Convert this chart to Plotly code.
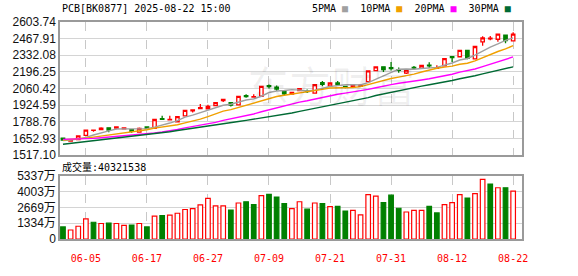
import plotly.graph_objects as go

# ---------------- data ----------------
dates = ["05-30", "06-03", "06-04", "06-05", "06-06", "06-09", "06-10", "06-11", "06-12", "06-13",
         "06-16", "06-17", "06-18", "06-19", "06-20", "06-23", "06-24", "06-25", "06-26", "06-27",
         "06-30", "07-01", "07-02", "07-03", "07-04", "07-07", "07-08", "07-09", "07-10", "07-11",
         "07-14", "07-15", "07-16", "07-17", "07-18", "07-21", "07-22", "07-23", "07-24", "07-25",
         "07-28", "07-29", "07-30", "07-31", "08-01", "08-04", "08-05", "08-06", "08-07", "08-08",
         "08-11", "08-12", "08-13", "08-14", "08-15", "08-18", "08-19", "08-20", "08-21", "08-22"]

opens = [1657, 1632, 1644, 1679, 1719, 1726, 1740, 1738, 1732, 1726,
         1705, 1747, 1735, 1815, 1806, 1790, 1838, 1878, 1898, 1896,
         1922, 1962, 1945, 1928, 2003, 1990, 1998, 2084, 2072, 2035,
         2016, 2045, 2042, 2024, 2108, 2083, 2107, 2078, 2076, 2078,
         2118, 2207, 2238, 2232, 2215, 2186, 2234, 2228, 2252, 2226,
         2245, 2322, 2320, 2372, 2303, 2442, 2466, 2463, 2497, 2450]
highs = [1660, 1640, 1676, 1726, 1726, 1744, 1742, 1750, 1745, 1730,
         1742, 1750, 1810, 1838, 1838, 1834, 1884, 1890, 1935, 1928,
         1948, 1975, 1948, 2000, 2015, 2015, 2080, 2094, 2086, 2040,
         2033, 2066, 2052, 2094, 2122, 2108, 2122, 2082, 2092, 2092,
         2208, 2240, 2240, 2278, 2232, 2215, 2245, 2255, 2275, 2250,
         2308, 2324, 2375, 2375, 2406, 2487, 2490, 2508, 2500, 2520]
lows = [1636, 1628, 1640, 1676, 1708, 1722, 1704, 1728, 1728, 1700,
        1702, 1728, 1732, 1804, 1804, 1786, 1836, 1866, 1896, 1890,
        1920, 1950, 1915, 1925, 1985, 1988, 1995, 2062, 2040, 2005,
        2012, 2040, 2024, 2020, 2080, 2080, 2085, 2064, 2072, 2074,
        2115, 2205, 2195, 2208, 2190, 2180, 2218, 2225, 2228, 2224,
        2242, 2278, 2316, 2300, 2300, 2410, 2455, 2442, 2430, 2445]
closes = [1640, 1642, 1674, 1722, 1722, 1738, 1722, 1748, 1740, 1712,
          1735, 1734, 1808, 1809, 1810, 1832, 1882, 1886, 1905, 1915,
          1946, 1972, 1925, 1997, 1995, 1995, 2078, 2076, 2057, 2018,
          2030, 2060, 2036, 2092, 2095, 2106, 2095, 2072, 2088, 2088,
          2205, 2238, 2216, 2224, 2210, 2212, 2228, 2250, 2245, 2232,
          2305, 2314, 2372, 2308, 2404, 2474, 2472, 2505, 2452, 2505]

ma5 = [1637, 1640, 1650, 1662, 1681.6, 1700.2, 1715.6, 1730.4, 1734, 1732,
       1731.4, 1733.8, 1745.8, 1759.6, 1779.2, 1798.6, 1828.2, 1843.8, 1863, 1884,
       1906.8, 1924.8, 1932.6, 1951, 1967, 1976.8, 1998, 2028.2, 2040.2, 2044.8,
       2051.8, 2048.2, 2040.2, 2047.2, 2062.6, 2077.8, 2084.8, 2092, 2091.2, 2089.8,
       2109.6, 2138.2, 2167, 2194.2, 2218.6, 2220, 2218, 2224.8, 2229, 2233.4,
       2252, 2269.2, 2293.6, 2306.2, 2332.6, 2366.4, 2398, 2424.6, 2453.4, 2473.6]
ma10 = [1641, 1645, 1650, 1656, 1664, 1672, 1680, 1689, 1698, 1706.8,
        1715.8, 1724.7, 1738.1, 1746.8, 1755.6, 1765, 1781, 1794.8, 1811.3, 1831.6,
        1852.7, 1876.5, 1888.2, 1907, 1925.5, 1941.8, 1961.4, 1980.4, 1995.6, 2005.9,
        2014.3, 2023.1, 2034.2, 2043.7, 2053.7, 2064.8, 2066.5, 2066.1, 2069.2, 2076.2,
        2093.7, 2111.5, 2129.5, 2142.7, 2154.2, 2164.8, 2178.1, 2195.9, 2211.6, 2226,
        2236, 2243.6, 2259.2, 2267.6, 2287, 2313.2, 2337.6, 2363.1, 2383.8, 2411.1]
ma20 = [1646, 1647, 1648, 1650, 1654, 1659, 1664, 1668, 1673, 1678,
        1684, 1690, 1698, 1706, 1715, 1727, 1740, 1750, 1760, 1769.2,
        1784.3, 1800.6, 1813.2, 1826.9, 1840.6, 1853.4, 1871.2, 1887.6, 1903.5, 1918.8,
        1933.5, 1949.8, 1961.2, 1975.4, 1989.6, 2003.3, 2014, 2023.3, 2032.4, 2041.1,
        2054, 2067.3, 2081.9, 2093.2, 2104, 2114.8, 2122.3, 2131, 2140.4, 2151.1,
        2164.9, 2177.6, 2194.4, 2205.2, 2220.6, 2239, 2257.9, 2279.5, 2297.7, 2318.6]
ma30 = [1606, 1613, 1619, 1626, 1633, 1640, 1647, 1653, 1660, 1667,
        1674, 1682, 1690, 1699, 1708, 1718, 1728, 1736, 1745, 1753,
        1763, 1773, 1783, 1792, 1801, 1811, 1822, 1832, 1840, 1848.1,
        1860.9, 1874.8, 1886.8, 1899.2, 1911.6, 1923.9, 1936.3, 1947.1, 1958.7, 1971.2,
        1986.9, 2003.7, 2017.3, 2031.1, 2044.5, 2057.1, 2068.7, 2080.8, 2092.1, 2102.7,
        2114.7, 2126.1, 2141, 2151.3, 2165, 2180.9, 2194.1, 2208.4, 2221.5, 2237.8]

# volume in 万 (10k shares)
volume = [1020, 759, 1073, 1701, 1413, 1308, 1335, 1308, 1151, 1178,
          1308, 1020, 1936, 1963, 2015, 2172, 2486, 2564, 2878, 3428,
          2800, 2800, 2434, 3035, 3140, 2905, 3663, 3768, 3533, 2983,
          2564, 3140, 2512, 3035, 2983, 2721, 2748, 2355, 2407, 2041,
          3742, 3611, 3062, 3690, 2591, 2277, 2407, 2407, 2748, 2198,
          2905, 3062, 3742, 3454, 3820, 5024, 4632, 4318, 4318, 4032.1538]
vol_up = [0, 1, 1, 1, 0, 1, 0, 1, 1, 0,
          1, 0, 1, 0, 1, 1, 1, 1, 1, 1,
          1, 1, 0, 1, 0, 0, 1, 0, 0, 0,
          1, 1, 0, 1, 0, 1, 0, 0, 1, 1,
          1, 1, 0, 0, 0, 1, 1, 1, 0, 0,
          1, 1, 1, 0, 1, 1, 0, 1, 0, 1]

price_ticks = [1517.10, 1652.93, 1788.76, 1924.59, 2060.42, 2196.25, 2332.08, 2467.91, 2603.74]
price_tick_text = ["1517.10", "1652.93", "1788.76", "1924.59", "2060.42", "2196.25", "2332.08", "2467.91", "2603.74"]
vol_ticks = [0, 1334.4, 2668.7, 4003.1, 5337.4]
vol_tick_text = ["0", "1334万", "2669万", "4003万", "5337万"]
date_labels = ["06-05", "06-17", "06-27", "07-09", "07-21", "07-31", "08-12", "08-22"]

title_text = "PCB[BK0877] 2025-08-22 15:00"
vol_label = "成交量:40321538"

# ---------------- styling ----------------
RED = "#ff0000"
GREEN = "#008000"
MA_COLORS = ["#a0a0a0", "#f0a000", "#ff00ff", "#006a34"]
MONO = "DejaVu Sans Mono, Noto Sans CJK SC"
GRID = "#d4d4d4"
BORDER = "#9a9a9a"

x = list(range(len(dates)))
date_pos = [dates.index(d) for d in date_labels]

fig = go.Figure()

fig.add_trace(go.Candlestick(
    x=x, open=opens, high=highs, low=lows, close=closes,
    increasing=dict(line=dict(color=RED, width=1.3), fillcolor="#ffffff"),
    decreasing=dict(line=dict(color=GREEN, width=1.3), fillcolor=GREEN),
    whiskerwidth=0, xaxis="x", yaxis="y", showlegend=False, hoverinfo="skip"))

for name, vals, col in zip(["MA5", "MA10", "MA20", "MA30"], [ma5, ma10, ma20, ma30], MA_COLORS):
    fig.add_trace(go.Scatter(x=x, y=vals, mode="lines", name=name,
                             line=dict(color=col, width=1.4),
                             xaxis="x", yaxis="y", showlegend=False, hoverinfo="skip"))

fig.add_trace(go.Bar(
    x=x, y=volume, width=0.6,
    marker=dict(color=["#ffffff" if u else GREEN for u in vol_up],
                line=dict(color=[RED if u else GREEN for u in vol_up], width=1.2)),
    xaxis="x2", yaxis="y2", showlegend=False, hoverinfo="skip"))

xr = [-0.39, 60.16]
common_x = dict(range=xr, tickvals=date_pos, showgrid=True, gridcolor="#c8c8c8",
                griddash="dash", gridwidth=1, zeroline=False, showline=True, mirror=True,
                linecolor=BORDER, linewidth=1.5, ticks="", fixedrange=True)
fig.update_layout(
    width=578, height=276,
    margin=dict(l=57, r=56, t=22, b=21),
    paper_bgcolor="white", plot_bgcolor="white",
    boxgap=0.36,
    xaxis=dict(domain=[0, 1], anchor="y", showticklabels=False,
               rangeslider=dict(visible=False), **common_x),
    xaxis2=dict(domain=[0, 1], anchor="y2", ticktext=date_labels, ticklabelstandoff=9,
                tickfont=dict(family=MONO, size=10, color=RED), **common_x),
    yaxis=dict(domain=[0.3863, 1], range=[price_ticks[0], price_ticks[-1]],
               tickvals=price_ticks, ticktext=price_tick_text,
               tickfont=dict(family="Liberation Sans, Arial", size=12, color="#111111"),
               showgrid=True, gridcolor=GRID, zeroline=False, showline=True, mirror=True,
               linecolor=BORDER, linewidth=1.5, ticks="", fixedrange=True),
    yaxis2=dict(domain=[0, 0.2918], range=[0, vol_ticks[-1]],
                tickvals=vol_ticks, ticktext=vol_tick_text,
                tickfont=dict(family="Liberation Sans, Noto Sans CJK SC", size=12, color="#111111"),
                showgrid=True, gridcolor=GRID, zeroline=False, showline=True, mirror=True,
                linecolor=BORDER, linewidth=1.5, ticks="", fixedrange=True),
)

legend_html = ("5PMA <span style='color:%s'>■</span>  10PMA <span style='color:%s'>■</span>  "
               "20PMA <span style='color:%s'>■</span>  30PMA <span style='color:%s'>■</span>") % tuple(MA_COLORS)

fig.add_annotation(text=title_text, xref="paper", yref="paper", x=0, y=(255 - 8) / 233,
                   xanchor="left", yanchor="middle", showarrow=False,
                   font=dict(family=MONO, size=10, color="#000000"))
fig.add_annotation(text=legend_html, xref="paper", yref="paper", x=(513 - 57) / 465, y=(255 - 8) / 233,
                   xanchor="right", yanchor="middle", showarrow=False,
                   font=dict(family=MONO, size=10, color="#000000"))
fig.add_annotation(text=vol_label, xref="paper", yref="paper", x=0, y=(255 - 178) / 233,
                   xanchor="left", yanchor="middle", showarrow=False,
                   font=dict(family=MONO, size=10, color="#000000"))
fig.add_annotation(text="东方财富", xref="paper", yref="paper", x=(330 - 57) / 465, y=(255 - 88) / 233,
                   xanchor="center", yanchor="middle", showarrow=False,
                   font=dict(family="Noto Sans CJK SC", size=42, color="rgba(0,0,0,0.06)"))

fig.write_html("out.html")
